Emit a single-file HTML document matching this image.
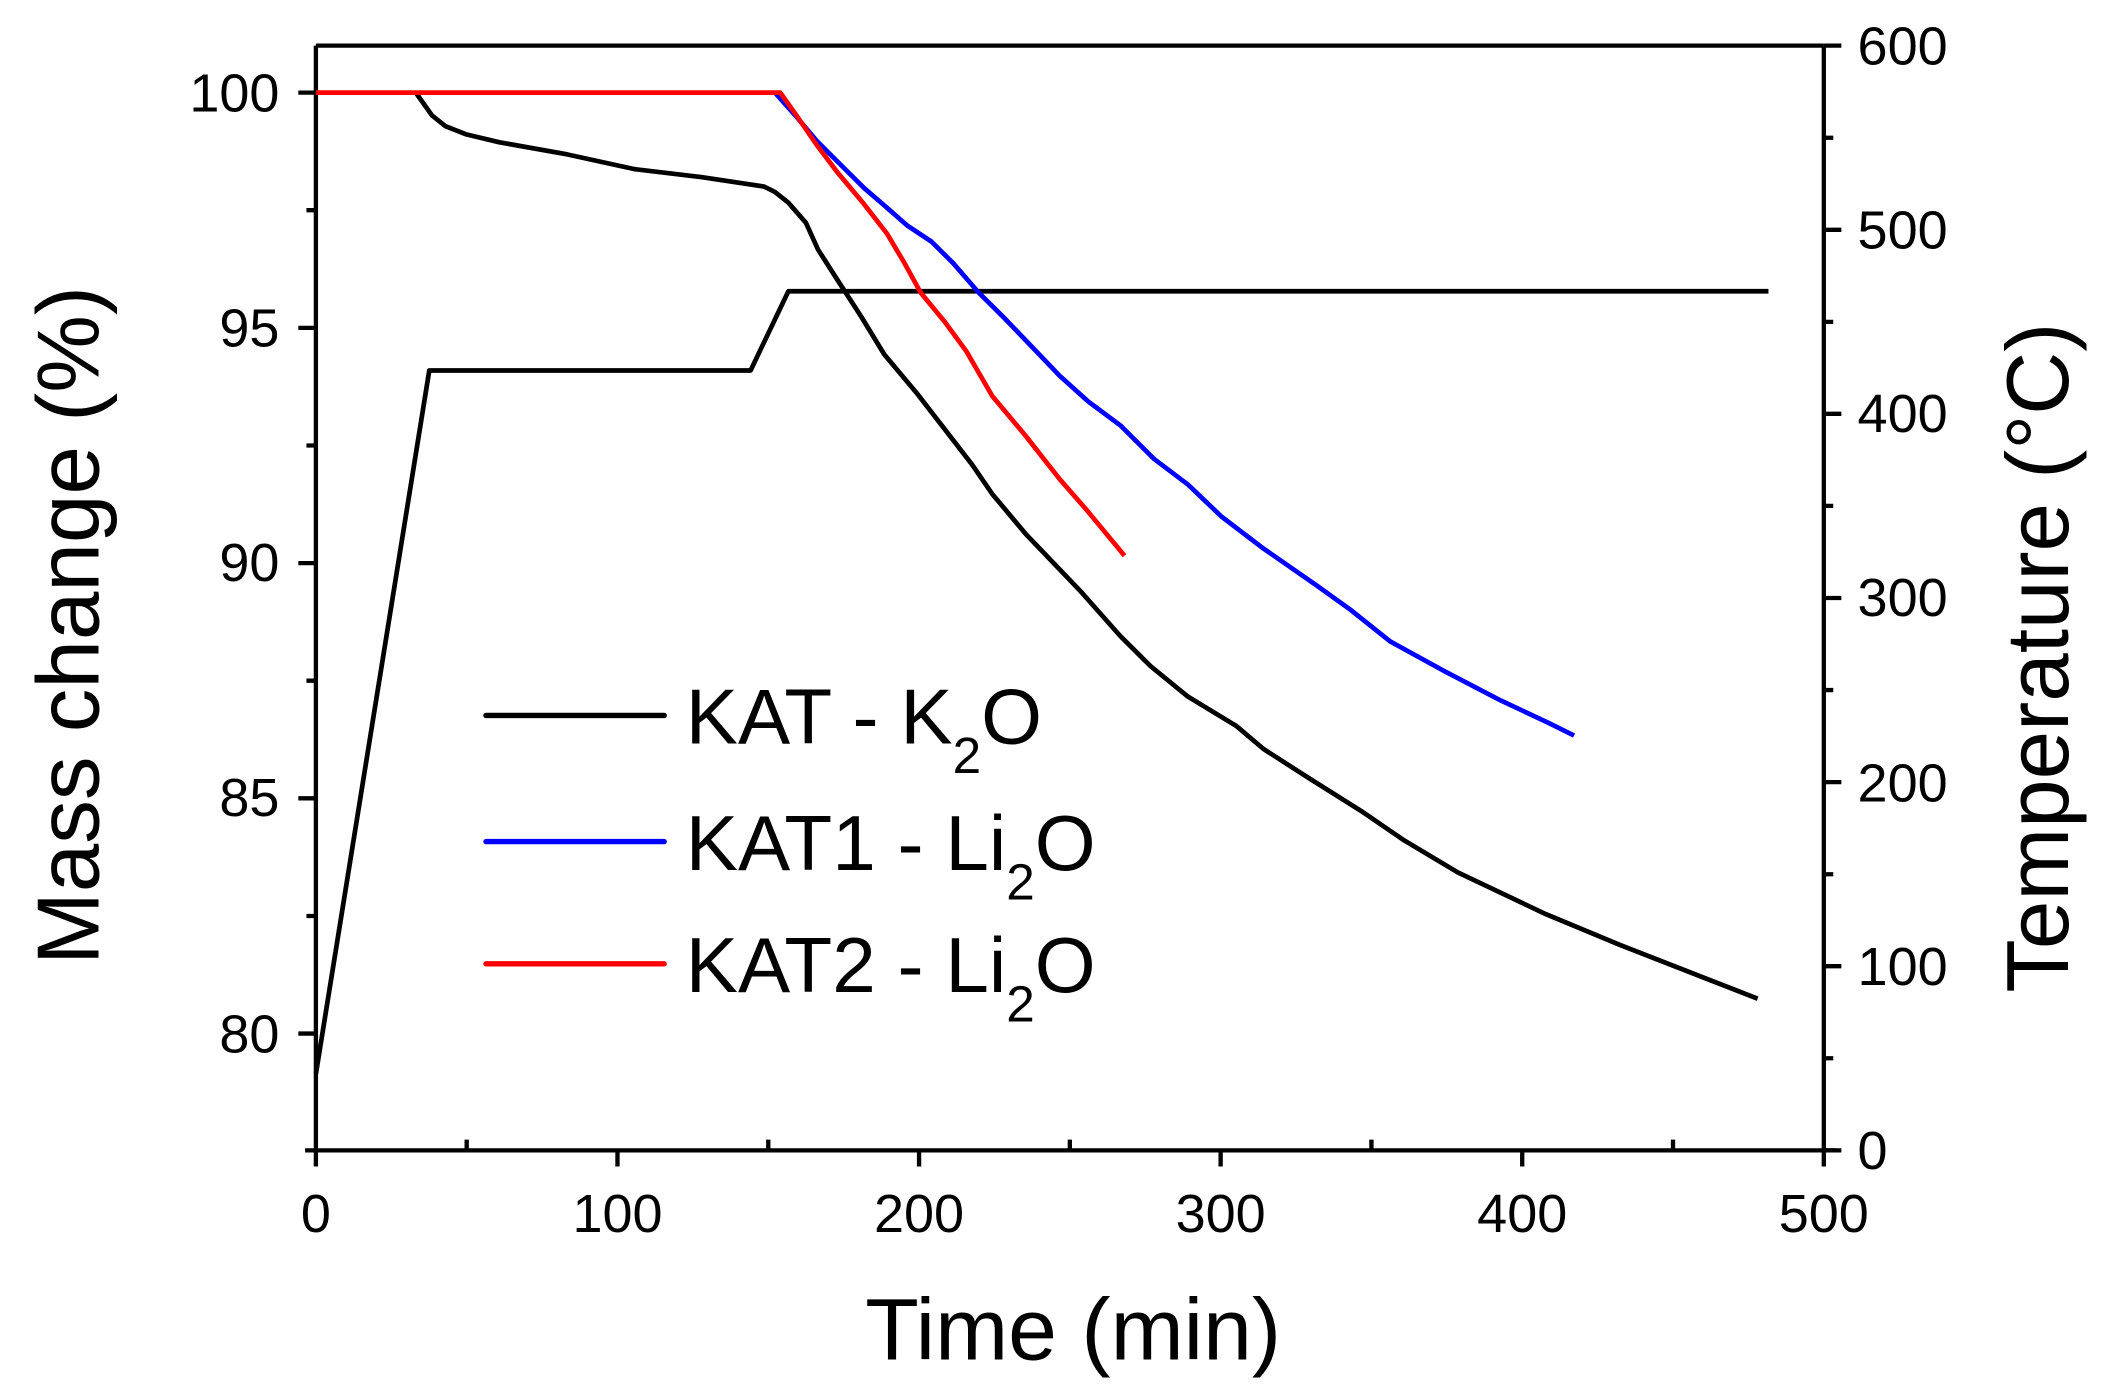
<!DOCTYPE html>
<html><head><meta charset="utf-8"><style>
html,body{margin:0;padding:0;background:#fff;}
svg{display:block;}
text{font-family:"Liberation Sans",Arial,sans-serif;fill:#000;}
</style></head><body>
<svg width="2110" height="1400" viewBox="0 0 1563 1043" preserveAspectRatio="none" xmlns="http://www.w3.org/2000/svg">
<rect width="1563" height="1043" fill="#fff"/>
<g stroke="#000" stroke-width="3.2" fill="none">
<path d="M234,34 L1351,34 M234,34 L234,857 M1351,34 L1351,857 M226,857 L1360,857"/>
<path d="M234,857 v12 M457.4,857 v12 M680.8,857 v12 M904.2,857 v12 M1127.6,857 v12 M1351,857 v12"/>
<path d="M345.7,857 v-8 M569.1,857 v-8 M792.5,857 v-8 M1015.9,857 v-8 M1239.3,857 v-8"/>
<path d="M234,69 h-13 M234,244.25 h-13 M234,419.5 h-13 M234,594.75 h-13 M234,770 h-13"/>
<path d="M234,156.6 h-7 M234,331.9 h-7 M234,507.1 h-7 M234,682.4 h-7"/>
<path d="M1351,34 h13 M1351,171.2 h13 M1351,308.3 h13 M1351,445.5 h13 M1351,582.7 h13 M1351,719.8 h13 M1351,857 h13"/>
<path d="M1351,102.6 h7 M1351,239.8 h7 M1351,376.9 h7 M1351,514.1 h7 M1351,651.3 h7 M1351,788.4 h7"/>
</g>
<g font-size="40" text-anchor="middle">
<text x="234" y="918">0</text><text x="457.4" y="918">100</text><text x="680.8" y="918">200</text>
<text x="904.2" y="918">300</text><text x="1127.6" y="918">400</text><text x="1351" y="918">500</text>
</g>
<g font-size="40" text-anchor="end">
<text x="207" y="83">100</text><text x="207" y="258">95</text><text x="207" y="433">90</text>
<text x="207" y="608">85</text><text x="207" y="784">80</text>
</g>
<g font-size="40" text-anchor="start">
<text x="1376" y="48">600</text><text x="1376" y="185">500</text><text x="1376" y="322">400</text>
<text x="1376" y="459">300</text><text x="1376" y="597">200</text><text x="1376" y="734">100</text><text x="1376" y="871">0</text>
</g>
<text x="795" y="1013" font-size="65" text-anchor="middle">Time (min)</text>
<text transform="translate(73,466) rotate(-90)" font-size="65" text-anchor="middle">Mass change (%)</text>
<text transform="translate(1532,490) rotate(-90)" font-size="65" text-anchor="middle">Temperature (°C)</text>
<g fill="none" stroke-width="3.5" stroke-linejoin="round">
<polyline stroke="#000" points="234,800 318,276 556,276 584,217 1310,217"/>
<polyline stroke="#000" points="308,69 320,86 330,94 345,100 370,106 420,115 470,126 520,132 566,139 574,143 584,151 597,166 606,186 620,208 638,236 655,264 680,294 700,320 720,346 735,368 760,398 800,440 830,474 852,496 880,519 916,541 936,558 970,580 1008,604 1040,626 1080,650 1145,681 1200,704 1302,744"/>
<polyline stroke="#0000ff" points="574,69 590,87 605,105 622,122 640,140 655,153 672,168 690,180 706,196 725,218 745,238 765,259 785,280 806,299 830,317 855,342 880,361 905,385 935,408 975,436 1000,454 1030,478 1070,500 1110,521 1148,539 1166,548"/>
<polyline stroke="#ff0000" points="234,69 578,69 590,86 605,108 620,128 640,152 657,174 670,196 682,218 700,240 716,262 735,295 760,325 785,357 805,380 833,414"/>
</g>
<g stroke-width="4" stroke-linecap="round">
<line x1="360" y1="533" x2="492" y2="533" stroke="#000"/>
<line x1="360" y1="627" x2="492" y2="627" stroke="#0000ff"/>
<line x1="360" y1="718" x2="492" y2="718" stroke="#ff0000"/>
</g>
<g font-size="58">
<text x="508" y="554">KAT - K<tspan font-size="38" dy="22">2</tspan><tspan dy="-22">O</tspan></text>
<text x="508" y="648">KAT1 - Li<tspan font-size="38" dy="22">2</tspan><tspan dy="-22">O</tspan></text>
<text x="508" y="739">KAT2 - Li<tspan font-size="38" dy="22">2</tspan><tspan dy="-22">O</tspan></text>
</g>
</svg>
</body></html>
